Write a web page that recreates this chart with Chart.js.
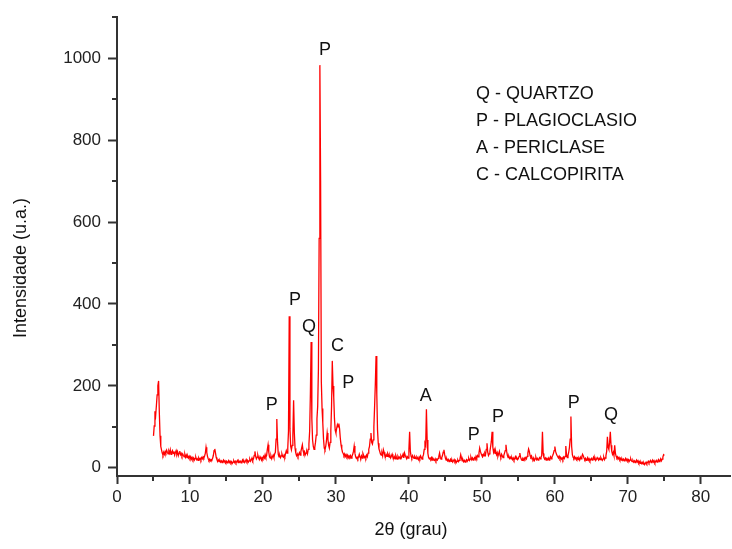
<!DOCTYPE html>
<html>
<head>
<meta charset="utf-8">
<script src="https://cdn.jsdelivr.net/npm/chart.js@4.4.1/dist/chart.umd.min.js"></script>
<style>
  html, body { margin: 0; padding: 0; background: #fff; }
  #wrap { width: 732px; height: 549px; }
</style>
</head>
<body>
<div id="wrap"><canvas id="xrd"></canvas></div>
<script>
// diffractogram sampled every 0.1 deg from 5.0 to 75.0 (one row per degree)
const thetaStart = 5
const thetaStep = 0.1
const intensity = [
  78, 102, 138, 128, 152, 178, 200, 212, 135, 78,   // 5
  52, 44, 36, 31, 38, 33, 40, 36, 43, 38,           // 6
  34, 41, 36, 44, 33, 38, 42, 35, 40, 31,           // 7
  37, 42, 33, 39, 30, 36, 41, 32, 35, 29,           // 8
  34, 30, 27, 33, 26, 31, 25, 29, 24, 28,           // 9
  23, 27, 21, 25, 20, 24, 19, 23, 26, 20,           // 10
  22, 18, 24, 20, 23, 19, 25, 22, 27, 24,           // 11
  29, 35, 50, 38, 28, 22, 18, 21, 17, 20,           // 12
  19, 23, 30, 42, 46, 36, 25, 20, 16, 19,           // 13
  15, 18, 14, 17, 13, 16, 19, 14, 17, 13,           // 14
  16, 12, 15, 18, 13, 16, 12, 15, 11, 14,           // 15
  17, 13, 16, 12, 15, 18, 13, 17, 14, 16,           // 16
  12, 15, 19, 14, 17, 13, 16, 20, 15, 18,           // 17
  14, 17, 21, 16, 19, 24, 18, 22, 30, 40,           // 18
  28, 22, 26, 31, 24, 20, 27, 23, 19, 25,           // 19
  22, 28, 24, 32, 26, 30, 45, 56, 38, 27,           // 20
  24, 29, 22, 27, 31, 25, 34, 38, 70, 119,          // 21
  62, 33, 27, 31, 25, 29, 34, 28, 26, 31,           // 22
  27, 35, 42, 36, 48, 90, 370, 95, 52, 44,          // 23
  55, 80, 165, 85, 48, 36, 30, 34, 28, 33,          // 24
  37, 31, 40, 48, 56, 42, 35, 39, 32, 36,           // 25
  40, 34, 45, 58, 90, 180, 307, 120, 68, 52,        // 26
  45, 50, 62, 80, 120, 150, 240, 560, 983, 700,     // 27
  210, 145, 110, 70, 48, 44, 52, 66, 85, 70,        // 28
  55, 48, 62, 90, 150, 261, 200, 173, 120, 92,      // 29
  85, 96, 105, 100, 108, 95, 72, 56, 46, 38,        // 30
  35, 30, 34, 28, 32, 27, 31, 25, 29, 26,           // 31
  30, 24, 28, 33, 40, 53, 36, 27, 23, 26,           // 32
  22, 27, 33, 26, 23, 29, 24, 35, 30, 25,           // 33
  28, 24, 31, 27, 36, 45, 52, 70, 85, 62,           // 34
  58, 68, 100, 150, 205, 273, 180, 92, 60, 46,      // 35
  40, 34, 31, 36, 29, 44, 38, 30, 27, 32,           // 36
  28, 35, 31, 26, 30, 24, 28, 33, 26, 23,           // 37
  27, 22, 30, 25, 21, 28, 24, 26, 22, 29,           // 38
  25, 28, 33, 24, 36, 30, 26, 22, 27, 24,           // 39
  45, 88, 40, 28, 24, 30, 26, 23, 28, 25,           // 40
  22, 27, 24, 20, 26, 22, 29, 25, 21, 27,           // 41
  32, 45, 60, 55, 143, 68, 35, 25, 22, 24,          // 42
  21, 25, 19, 23, 20, 18, 22, 17, 21, 19,           // 43
  23, 28, 36, 26, 21, 25, 30, 38, 44, 32,           // 44
  24, 19, 22, 17, 20, 15, 18, 21, 16, 19,           // 45
  14, 17, 20, 15, 18, 13, 16, 19, 15, 18,           // 46
  22, 32, 24, 17, 20, 15, 18, 14, 17, 20,           // 47
  16, 19, 23, 18, 21, 26, 20, 24, 19, 22,           // 48
  25, 21, 28, 24, 30, 27, 36, 48, 40, 34,           // 49
  30, 27, 33, 29, 36, 32, 45, 60, 38, 30,           // 50
  34, 40, 52, 65, 88, 50, 38, 44, 35, 40,           // 51
  32, 37, 28, 34, 40, 30, 26, 33, 29, 25,           // 52
  30, 36, 42, 56, 40, 30, 25, 28, 23, 26,           // 53
  22, 25, 20, 24, 19, 23, 27, 21, 24, 20,           // 54
  23, 28, 36, 26, 21, 18, 22, 19, 24, 21,           // 55
  25, 22, 28, 36, 46, 40, 30, 26, 29, 23,           // 56
  20, 24, 18, 22, 26, 20, 23, 19, 21, 25,           // 57
  22, 26, 30, 88, 35, 25, 21, 24, 19, 22,           // 58
  20, 24, 19, 23, 27, 22, 26, 30, 35, 42,           // 59
  52, 40, 34, 30, 27, 24, 28, 22, 25, 21,           // 60
  24, 20, 26, 23, 28, 53, 32, 25, 30, 38,           // 61
  50, 70, 125, 52, 32, 26, 23, 27, 22, 25,          // 62
  21, 24, 20, 23, 19, 26, 22, 28, 33, 29,           // 63
  24, 20, 23, 18, 21, 25, 19, 22, 17, 20,           // 64
  23, 19, 22, 26, 20, 24, 18, 21, 25, 22,           // 65
  19, 23, 20, 25, 21, 18, 22, 26, 20, 24,           // 66
  30, 40, 76, 50, 45, 62, 88, 55, 40, 33,           // 67
  38, 30, 55, 35, 28, 24, 27, 22, 25, 20,           // 68
  23, 19, 22, 18, 21, 17, 20, 23, 18, 21,           // 69
  17, 20, 16, 19, 22, 17, 15, 18, 14, 17,           // 70
  13, 16, 19, 14, 17, 12, 15, 11, 14, 10,           // 71
  13, 9, 12, 8, 11, 14, 10, 13, 16, 12,             // 72
  15, 18, 13, 16, 19, 14, 17, 12, 15, 18,           // 73
  14, 17, 20, 15, 18, 22, 17, 21, 26, 32,           // 74
  30                                                // 75
]

// phase letters over the peaks (2theta, counts of the letter centre)
const peakTags      = ['P', 'P', 'Q', 'P', 'C', 'P', 'A', 'P', 'P', 'P', 'Q']
const peakTagTheta  = [21.2, 24.4, 26.3, 28.5, 30.2, 31.7, 42.3, 48.9, 52.2, 62.6, 67.7]
const peakTagCounts = [153, 409, 344, 1019, 298, 206, 176, 79, 124, 159, 129]

const phaseKey = ['Q - QUARTZO', 'P - PLAGIOCLASIO', 'A - PERICLASE', 'C - CALCOPIRITA']

const xMajorTicks = [0, 10, 20, 30, 40, 50, 60, 70, 80]
const xMinorTicks = [5, 15, 25, 35, 45, 55, 65, 75]
const yMajorTicks = [0, 200, 400, 600, 800, 1000]
const yMinorTicks = [100, 300, 500, 700, 900, 1100]

const FONT = '"Liberation Sans", Arial, sans-serif'
const AXIS = '#333'

const decor = {
  id: 'decor',
  afterDraw(chart) {
    const { ctx, scales: { x, y } } = chart
    ctx.save()
    ctx.strokeStyle = AXIS
    ctx.lineWidth = 2
    ctx.beginPath()
    xMinorTicks.forEach(v => {
      const px = Math.round(x.getPixelForValue(v))
      ctx.moveTo(px, y.bottom); ctx.lineTo(px, y.bottom + 5)
    })
    yMinorTicks.forEach(v => {
      const py = Math.round(y.getPixelForValue(v))
      ctx.moveTo(x.left, py); ctx.lineTo(x.left - 5, py)
    })
    ctx.stroke()

    ctx.fillStyle = '#111'
    ctx.font = `18px ${FONT}`
    ctx.textAlign = 'center'
    ctx.textBaseline = 'middle'
    peakTags.forEach((t, i) =>
      ctx.fillText(t, x.getPixelForValue(peakTagTheta[i]), y.getPixelForValue(peakTagCounts[i])))

    ctx.textAlign = 'left'
    phaseKey.forEach((t, i) => ctx.fillText(t, 476, 94 + i * 27))

    ctx.textAlign = 'center'
    ctx.fillText('2θ (grau)', 411, 530)
    ctx.translate(21, 268)
    ctx.rotate(-Math.PI / 2)
    ctx.fillText('Intensidade (u.a.)', 0, 0)
    ctx.restore()
  }
}

new Chart(document.getElementById('xrd'), {
  type: 'line',
  data: {
    datasets: [{
      data: intensity.map((v, i) => ({ x: thetaStart + i * thetaStep, y: v })),
      borderColor: '#ff0000',
      borderWidth: 1.3,
      pointRadius: 0,
      tension: 0,
      fill: false,
    }],
  },
  options: {
    responsive: true, maintainAspectRatio: false, animation: false,
    layout: { padding: { top: 15, right: 2, left: 0, bottom: 0 } },
    plugins: { legend: { display: false }, tooltip: { enabled: false } },
    scales: {
      x: {
        type: 'linear', min: 0, max: 84,
        afterBuildTicks: s => { s.ticks = xMajorTicks.map(v => ({ value: v })) },
        afterFit: s => { s.height = 73 },
        border: { color: AXIS, width: 2 },
        grid: { drawOnChartArea: false, tickLength: 8, tickColor: AXIS, tickWidth: 2 },
        ticks: { color: '#222', font: { family: FONT, size: 17 }, padding: 3, maxRotation: 0,
                 callback: v => String(v) },
      },
      y: {
        type: 'linear', min: -20, max: 1100,
        afterBuildTicks: s => { s.ticks = yMajorTicks.map(v => ({ value: v })) },
        afterFit: s => { s.width = 117 },
        border: { color: AXIS, width: 2 },
        grid: { drawOnChartArea: false, tickLength: 9, tickColor: AXIS, tickWidth: 2 },
        ticks: { color: '#222', font: { family: FONT, size: 17 }, padding: 7,
                 callback: v => String(v) },
      },
    },
  },
  plugins: [decor],
})
</script>
</body>
</html>
